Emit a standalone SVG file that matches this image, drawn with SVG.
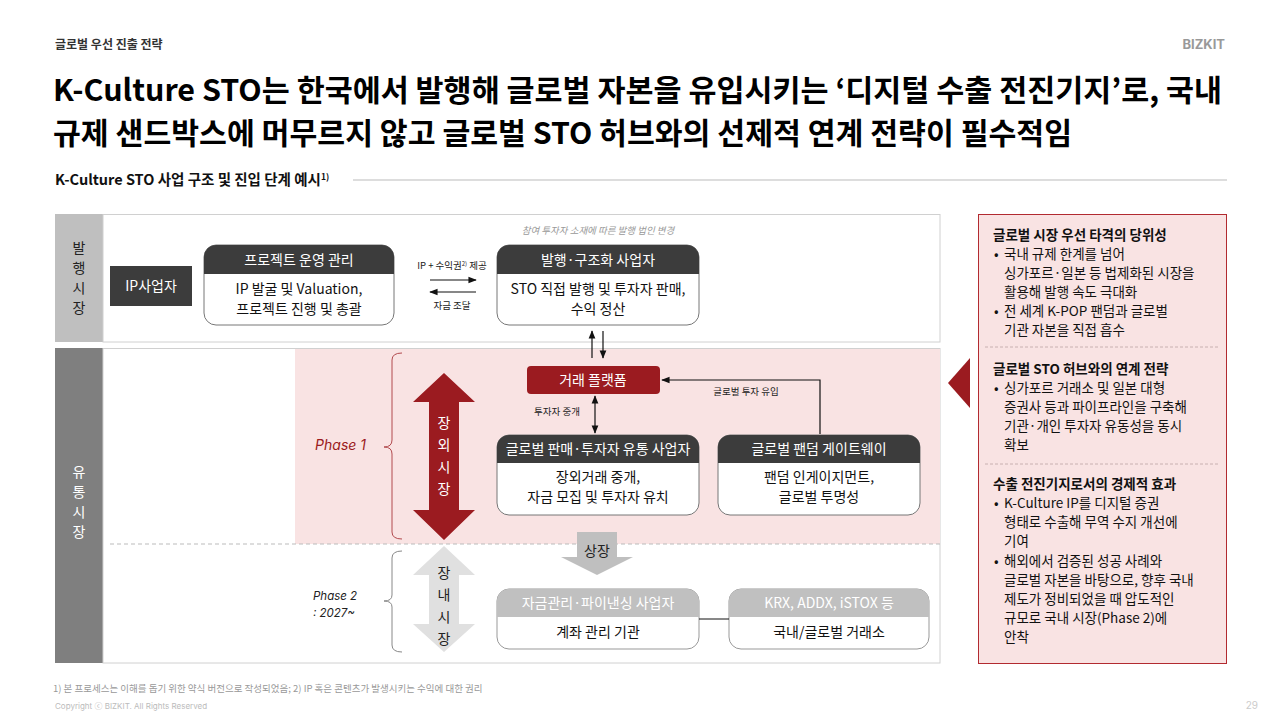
<svg xmlns="http://www.w3.org/2000/svg" width="1280" height="720" viewBox="0 0 1280 720">
<defs>
<style>
text{font-family:Inter,"Noto Sans CJK KR",sans-serif;}
.t{font-family:"Noto Sans CJK KR",sans-serif;}
.hd{fill:#fff;font-size:14px;text-anchor:middle;font-family:"Noto Sans CJK KR",sans-serif;}
.bd{fill:#111;font-size:14px;text-anchor:middle;font-family:"Noto Sans CJK KR",sans-serif;}
.sm{fill:#222;font-size:9.5px;text-anchor:middle;font-family:"Noto Sans CJK KR",sans-serif;}
.rp{font-size:13.5px;fill:#111;font-family:"Noto Sans CJK KR",sans-serif;}
.rh{font-size:13.5px;fill:#111;font-weight:bold;font-family:"Noto Sans CJK KR",sans-serif;}
.ln{stroke:#111;stroke-width:1.2;fill:none;}
</style>
<marker id="ah" viewBox="0 0 10 10" refX="9" refY="5" markerWidth="7" markerHeight="7" orient="auto-start-reverse"><path d="M0,1 L10,5 L0,9 z" fill="#111"/></marker>
</defs>
<rect width="1280" height="720" fill="#fff"/>
<text x="55" y="49" class="t" font-size="12" font-weight="bold" fill="#333">글로벌 우선 진출 전략</text>
<text x="1225" y="49" font-size="13" font-weight="bold" fill="#999" text-anchor="end" font-family="Inter,sans-serif">BIZKIT</text>
<text x="53" y="101" class="t" font-size="30" font-weight="bold" fill="#000" textLength="1169" lengthAdjust="spacingAndGlyphs">K-Culture STO는 한국에서 발행해 글로벌 자본을 유입시키는 ‘디지털 수출 전진기지’로, 국내</text>
<text x="53" y="144" class="t" font-size="30" font-weight="bold" fill="#000" textLength="1019" lengthAdjust="spacingAndGlyphs">규제 샌드박스에 머무르지 않고 글로벌 STO 허브와의 선제적 연계 전략이 필수적임</text>
<text x="55" y="185" class="t" font-size="14.5" font-weight="bold" fill="#111">K-Culture STO 사업 구조 및 진입 단계 예시<tspan font-size="8.5" dy="-5">1)</tspan></text>
<line x1="353" y1="180" x2="1227" y2="180" stroke="#bbb" stroke-width="1"/>

<g id="band-issue">
<rect x="55" y="214" width="48" height="128" fill="#bfbfbf"/>
<rect x="103" y="214.5" width="837" height="127.5" fill="#fff" stroke="#d0d0d0"/>
<text class="t" font-size="14" fill="#222" text-anchor="middle"><tspan x="79" y="253">발</tspan><tspan x="79" y="273">행</tspan><tspan x="79" y="293">시</tspan><tspan x="79" y="313">장</tspan></text>
</g>
<g id="band-dist">
<rect x="55" y="348" width="48" height="315" fill="#7f7f7f"/>
<rect x="103" y="348.5" width="837" height="314.5" fill="#fff" stroke="#d0d0d0"/>
<rect x="295" y="349" width="645" height="195" fill="#f9e3e3"/>
<line x1="110" y1="544" x2="940" y2="544" stroke="#bbb" stroke-dasharray="4,3"/>
<text class="t" font-size="14" fill="#fff" text-anchor="middle"><tspan x="79" y="477">유</tspan><tspan x="79" y="497">통</tspan><tspan x="79" y="517">시</tspan><tspan x="79" y="537">장</tspan></text>
</g>

<g id="ip">
<rect x="110" y="266" width="82" height="40" fill="#3c3c3c"/>
<text x="151" y="291" class="hd">IP사업자</text>
</g>
<g id="pm">
<rect x="204" y="245" width="190" height="80" rx="12" fill="#fff" stroke="#777"/>
<path d="M204,274 V257 a12,12 0 0 1 12,-12 H382 a12,12 0 0 1 12,12 V274 z" fill="#3c3c3c"/>
<text x="299" y="265" class="hd">프로젝트 운영 관리</text>
<text x="299" y="294" class="bd">IP 발굴 및 Valuation,</text>
<text x="299" y="314" class="bd">프로젝트 진행 및 총괄</text>
</g>
<g id="issuer">
<text x="598" y="234" class="t" font-size="9.5" font-style="italic" fill="#999" text-anchor="middle">참여 투자자 소재에 따른 발행 법인 변경</text>
<rect x="497" y="245" width="202" height="80" rx="12" fill="#fff" stroke="#777"/>
<path d="M497,274 V257 a12,12 0 0 1 12,-12 H687 a12,12 0 0 1 12,12 V274 z" fill="#3c3c3c"/>
<text x="598" y="265" class="hd">발행·구조화 사업자</text>
<text x="598" y="294" class="bd">STO 직접 발행 및 투자자 판매,</text>
<text x="598" y="314" class="bd">수익 정산</text>
</g>
<g id="platform">
<rect x="527" y="366" width="133" height="28" rx="4" fill="#9b1b20"/>
<text x="593" y="385" class="hd">거래 플랫폼</text>
</g>
<g id="global-dist">
<rect x="497" y="435" width="202" height="80" rx="12" fill="#fff" stroke="#777"/>
<path d="M497,463 V447 a12,12 0 0 1 12,-12 H687 a12,12 0 0 1 12,12 V463 z" fill="#3c3c3c"/>
<text x="598" y="454" class="hd">글로벌 판매·투자자 유통 사업자</text>
<text x="598" y="482" class="bd">장외거래 중개,</text>
<text x="598" y="502" class="bd">자금 모집 및 투자자 유치</text>
</g>
<g id="fandom">
<rect x="718" y="435" width="202" height="80" rx="12" fill="#fff" stroke="#777"/>
<path d="M718,463 V447 a12,12 0 0 1 12,-12 H908 a12,12 0 0 1 12,12 V463 z" fill="#3c3c3c"/>
<text x="819" y="454" class="hd">글로벌 팬덤 게이트웨이</text>
<text x="819" y="482" class="bd">팬덤 인게이지먼트,</text>
<text x="819" y="502" class="bd">글로벌 투명성</text>
</g>
<g id="finance">
<rect x="497" y="589" width="202" height="60" rx="12" fill="#fff" stroke="#999"/>
<path d="M497,617 V601 a12,12 0 0 1 12,-12 H687 a12,12 0 0 1 12,12 V617 z" fill="#c0c0c0"/>
<text x="598" y="608" class="hd">자금관리·파이낸싱 사업자</text>
<text x="598" y="637" class="bd">계좌 관리 기관</text>
</g>
<g id="exchange">
<rect x="729" y="589" width="200" height="60" rx="12" fill="#fff" stroke="#999"/>
<path d="M729,617 V601 a12,12 0 0 1 12,-12 H917 a12,12 0 0 1 12,12 V617 z" fill="#c0c0c0"/>
<text x="829" y="608" class="hd">KRX, ADDX, iSTOX 등</text>
<text x="829" y="637" class="bd">국내/글로벌 거래소</text>
</g>

<g id="connectors">
<line x1="430" y1="280" x2="476" y2="280" class="ln" marker-end="url(#ah)"/>
<line x1="476" y1="292" x2="430" y2="292" class="ln" marker-end="url(#ah)"/>
<text x="452" y="269" class="sm">IP + 수익권<tspan font-size="6" dy="-3">2)</tspan><tspan dy="3"> 제공</tspan></text>
<text x="452" y="309" class="sm">자금 조달</text>
<line x1="592" y1="358" x2="592" y2="331" class="ln" marker-end="url(#ah)"/>
<line x1="603" y1="331" x2="603" y2="358" class="ln" marker-end="url(#ah)"/>
<line x1="595" y1="396" x2="595" y2="433" class="ln" marker-start="url(#ah)" marker-end="url(#ah)"/>
<text x="557" y="415" class="sm">투자자 중개</text>
<polyline points="820,434 820,380 662,380" class="ln" marker-end="url(#ah)"/>
<text x="746" y="395" class="sm">글로벌 투자 유입</text>
<line x1="699" y1="619" x2="729" y2="619" stroke="#111" stroke-width="1"/>
<polygon points="577,532 617,532 617,557 633,557 597,575 561,557 577,557" fill="#bfbfbf"/>
<text x="597" y="556" class="t" font-size="14" fill="#222" text-anchor="middle">상장</text>
<polygon points="444,373 475,402 459,402 459,510 475,510 444,540 413,510 429,510 429,402 413,402" fill="#9b1b20"/>
<text class="t" font-size="14" fill="#fff" text-anchor="middle"><tspan x="444" y="428">장</tspan><tspan x="444" y="450">외</tspan><tspan x="444" y="472">시</tspan><tspan x="444" y="494">장</tspan></text>
<polygon points="444,546 475,575 459,575 459,624 475,624 444,652 413,624 429,624 429,575 413,575" fill="#e0e0e0"/>
<text class="t" font-size="14" fill="#222" text-anchor="middle"><tspan x="444" y="578">장</tspan><tspan x="444" y="600">내</tspan><tspan x="444" y="622">시</tspan><tspan x="444" y="644">장</tspan></text>
<path d="M402,353 Q392,353 392,360 V440 Q392,447 384,447 Q392,447 392,454 V532 Q392,539 402,539" fill="none" stroke="#b24a4e" stroke-width="1"/>
<path d="M402,551 Q392,551 392,558 V595 Q392,601 384,601 Q392,601 392,607 V645 Q392,652 402,652" fill="none" stroke="#888" stroke-width="1"/>
<text x="366" y="450" font-size="14" font-style="italic" fill="#9b1b20" text-anchor="end" font-family="Inter,sans-serif">Phase 1</text>
<text x="313" y="600" font-size="11.5" font-style="italic" fill="#222" font-family="Inter,sans-serif">Phase 2</text>
<text x="313" y="617" font-size="11.5" font-style="italic" fill="#222" font-family="Inter,sans-serif">: 2027~</text>
</g>

<g id="panel">
<polygon points="948,383 970,358 970,408" fill="#9b1b20"/>
<rect x="978.5" y="214.5" width="248" height="449" fill="#f9e3e3" stroke="#b22a30"/>
<text x="993" y="240" class="rh">글로벌 시장 우선 타격의 당위성</text>
<text class="rp"><tspan x="994" y="259">•</tspan><tspan x="1004" y="259">국내 규제 한계를 넘어</tspan><tspan x="1004" y="278">싱가포르·일본 등 법제화된 시장을</tspan><tspan x="1004" y="297">활용해 발행 속도 극대화</tspan><tspan x="994" y="316">•</tspan><tspan x="1004" y="316">전 세계 K-POP 팬덤과 글로벌</tspan><tspan x="1004" y="335">기관 자본을 직접 흡수</tspan></text>
<line x1="985" y1="347" x2="1218" y2="347" stroke="#c8b0b0" stroke-dasharray="3,2"/>
<text x="993" y="374" class="rh">글로벌 STO 허브와의 연계 전략</text>
<text class="rp"><tspan x="994" y="393">•</tspan><tspan x="1004" y="393">싱가포르 거래소 및 일본 대형</tspan><tspan x="1004" y="412">증권사 등과 파이프라인을 구축해</tspan><tspan x="1004" y="431">기관·개인 투자자 유동성을 동시</tspan><tspan x="1004" y="450">확보</tspan></text>
<line x1="985" y1="464" x2="1218" y2="464" stroke="#c8b0b0" stroke-dasharray="3,2"/>
<text x="993" y="489" class="rh">수출 전진기지로서의 경제적 효과</text>
<text class="rp"><tspan x="994" y="508">•</tspan><tspan x="1004" y="508">K-Culture IP를 디지털 증권</tspan><tspan x="1004" y="527">형태로 수출해 무역 수지 개선에</tspan><tspan x="1004" y="546">기여</tspan><tspan x="994" y="566">•</tspan><tspan x="1004" y="566">해외에서 검증된 성공 사례와</tspan><tspan x="1004" y="585">글로벌 자본을 바탕으로, 향후 국내</tspan><tspan x="1004" y="604">제도가 정비되었을 때 압도적인</tspan><tspan x="1004" y="623">규모로 국내 시장(Phase 2)에</tspan><tspan x="1004" y="642">안착</tspan></text>
</g>

<text x="53" y="692" class="t" font-size="9.5" fill="#999">1) 본 프로세스는 이해를 돕기 위한 약식 버전으로 작성되었음; 2) IP 혹은 콘텐츠가 발생시키는 수익에 대한 권리</text>
<text x="55" y="709" font-size="8" fill="#bbb" font-family="Inter,sans-serif">Copyright ⓒ BIZKIT. All Rights Reserved</text>
<text x="1258" y="709" font-size="10" fill="#ccc" text-anchor="end" font-family="Inter,sans-serif">29</text>
</svg>
